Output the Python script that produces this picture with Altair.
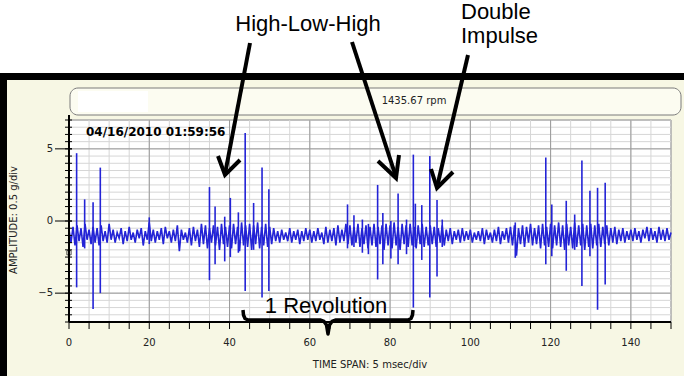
import altair as alt
import pandas as pd

# ---------------- layout (pixels of the 684x376 picture) ----------------
LEFT, TOP, W, H = 69, 120, 602, 202
BLUE = "#2323d6"

# ---------------- data ----------------
# waveform samples every 0.5 ms (g), hand-read band of the noisy signal
sig_00 = [-0.6, -1.5, -0.4, -1.7, -0.3, -1.4, -0.5, -1.8, -0.2, -1.3, -0.6, -1.6, -0.4, -1.5, -0.5, -1.7, -0.3, -1.4, -0.7, -1.5]
sig_10 = [-0.2, -1.3, -0.6, -1.5, -0.8, -1.2, -0.5, -1.6, -0.7, -1.4, -0.4, -1.3, -0.8, -1.5, -0.6, -1.2, -0.5, -1.7, -0.7, -1.3]
sig_20 = [-0.1, -1.4, -0.6, -1.5, -0.7, -1.3, -0.5, -1.6, -0.4, -1.2, -0.7, -1.5, -0.6, -1.4, -0.3, -2.1, -0.6, -1.3, -0.8, -1.5]
sig_30 = [-0.5, -1.7, -0.4, -1.4, -0.6, -1.8, -0.2, -1.6, -0.3, -1.9, -0.5, -1.5, -0.3, -1.7, -0.4, -2.0, -0.2, -1.6, -0.4, -1.8]
sig_40 = [-0.3, -1.9, -0.2, -1.6, -0.4, -2.1, -0.1, -1.7, -0.3, -1.8, -0.2, -2.0, -0.3, -1.6, -0.1, -1.9, -0.4, -1.7, -0.2, -1.8]
sig_50 = [-0.4, -1.6, -0.5, -1.4, -0.7, -1.5, -0.6, -1.3, -0.8, -1.4, -0.5, -1.5, -0.7, -1.3, -0.6, -1.6, -0.7, -1.4, -0.5, -1.3]
sig_60 = [-0.6, -1.5, -0.7, -1.4, -0.5, -1.3, -0.8, -1.6, -0.4, -1.5, -0.6, -1.4, -0.5, -1.7, -0.3, -1.5, -0.6, -1.4, -0.2, -1.6]
sig_70 = [-0.3, -1.7, -0.4, -1.5, -0.2, -1.8, -0.5, -1.6, -0.3, -1.9, -0.4, -1.7, -0.2, -1.8, -0.4, -1.6, -0.3, -2.0, -0.2, -1.7]
sig_80 = [-0.3, -1.9, -0.1, -1.7, -0.4, -2.0, -0.2, -1.6, -0.3, -1.8, -0.2, -1.7, -0.4, -1.9, -0.3, -1.6, -0.2, -1.8, -0.4, -1.7]
sig_90 = [-0.3, -1.6, -0.4, -1.8, -0.5, -1.5, -0.3, -1.7, -0.6, -1.4, -0.5, -1.6, -0.7, -1.3, -0.6, -1.5, -0.5, -1.4, -0.7, -1.3]
sig_100 = [-0.6, -1.5, -0.8, -1.3, -0.7, -1.4, -0.5, -1.6, -0.6, -1.3, -0.8, -1.5, -0.6, -1.4, -0.4, -1.6, -0.7, -1.3, -0.5, -1.5]
sig_110 = [-0.4, -1.7, -0.3, -2.4, -0.5, -1.6, -0.3, -1.8, -0.4, -1.5, -0.2, -1.7, -0.5, -1.6, -0.3, -1.9, -0.2, -1.7, -0.4, -1.8]
sig_120 = [-0.2, -1.9, -0.3, -1.7, -0.1, -1.8, -0.3, -2.0, -0.2, -1.7, -0.4, -1.9, -0.1, -1.8, -0.3, -1.7, -0.2, -2.0, -0.3, -1.8]
sig_130 = [-0.2, -1.9, -0.3, -1.7, -0.2, -1.8, -0.4, -1.6, -0.3, -1.7, -0.5, -1.5, -0.4, -1.6, -0.6, -1.4, -0.5, -1.5, -0.7, -1.3]
sig_140 = [-0.6, -1.4, -0.5, -1.3, -0.7, -1.5, -0.6, -1.2, -0.4, -1.4, -0.5, -1.3, -0.7, -1.5, -0.4, -1.3, -0.6, -1.4, -0.5, -1.3, -0.8]

# impulses: time (ms), peak (g), trough (g)
spike_t = [1.9, 3.9, 6.0, 7.8, 20.0, 35.0, 36.4, 38.8, 40.2, 42.2, 43.9, 46.0, 48.1, 49.8,
           69.4, 71.0, 73.1, 74.6, 76.9, 78.2, 80.2, 82.0, 84.1, 85.8, 86.3, 87.9, 89.9, 91.7, 93.0,
           111.2, 118.8, 120.3, 123.9, 126.0, 127.8, 129.8, 131.7, 133.6]
spike_hi = [4.7, 1.5, 1.3, 3.7, 0.25, 2.35, 1.0, 0.3, 1.6, 0.6, 6.1, 1.25, 3.7, 2.2,
            1.15, 0.4, 0.1, -0.2, 2.5, 0.55, 0.0, 1.9, 0.1, 4.6, 1.2, 1.1, 4.5, 1.45, 0.1,
            -0.1, 4.4, 1.15, 1.4, 0.45, 4.2, 2.1, 2.3, 2.65]
spike_lo = [-4.6, -1.9, -6.1, -5.0, -1.6, -4.1, -3.0, -2.8, -2.5, -2.2, -4.85, -2.0, -5.3, -4.85,
            -1.9, -1.8, -2.2, -2.3, -4.05, -3.0, -2.6, -3.0, -2.3, -6.0, -1.8, -2.7, -5.3, -3.85, -1.8,
            -2.55, -3.0, -2.45, -3.45, -2.0, -4.5, -2.45, -6.15, -4.4]

x_labels = [0, 20, 40, 60, 80, 100, 120, 140]
y_labels = [-5, 0, 5]

signal = (sig_00 + sig_10 + sig_20 + sig_30 + sig_40 + sig_50 + sig_60 + sig_70
          + sig_80 + sig_90 + sig_100 + sig_110 + sig_120 + sig_130 + sig_140)
times = [i * 0.5 for i in range(len(signal))]

x_grid = [i * 5 for i in range(31)]
y_grid = [-7 + i * 0.5 for i in range(29)]

XS = alt.Scale(domain=[0, 150], nice=False, zero=False)
YS = alt.Scale(domain=[-7, 7], nice=False, zero=False)


def px(v):
    return v - LEFT


def py(v):
    return v - TOP


one = pd.DataFrame({"a": [0]})


def box(x1, x2, y1, y2, **kw):
    return alt.Chart(one).mark_rect(**kw).encode(
        x=alt.value(px(x1)), x2=alt.value(px(x2)),
        y=alt.value(py(y1)), y2=alt.value(py(y2)))


def label(text, x, y, **kw):
    return alt.Chart(one).mark_text(text=text, **kw).encode(
        x=alt.value(px(x)), y=alt.value(py(y)))


layers = []
# window frame
layers.append(box(7, 684, 79, 376, color="#f7f7e4"))
layers.append(box(0, 684, 73, 80, color="#000000"))
layers.append(box(0, 7, 73, 376, color="#000000"))
# rpm box
layers.append(box(70, 681, 88, 115, fill="#fcfcf1", stroke="#7a7a7a", strokeWidth=1, cornerRadius=8))
layers.append(box(78, 148, 91, 112, color="#ffffff"))
# plot area
layers.append(alt.Chart(one).mark_rect(fill="white", stroke="#555555", strokeWidth=1).encode(
    x=alt.value(0), x2=alt.value(W), y=alt.value(0), y2=alt.value(H)))

# grid
layers.append(alt.Chart(pd.DataFrame({"v": x_grid})).mark_rule(color="#d6d6d6", strokeWidth=1).encode(
    x=alt.X("v:Q", scale=XS, axis=None), y=alt.value(0), y2=alt.value(H)))
layers.append(alt.Chart(pd.DataFrame({"v": y_grid})).mark_rule(color="#d6d6d6", strokeWidth=1).encode(
    y=alt.Y("v:Q", scale=YS, axis=None), x=alt.value(0), x2=alt.value(W)))
layers.append(alt.Chart(pd.DataFrame({"v": x_labels[1:]})).mark_rule(color="#9a9a9a", strokeWidth=1).encode(
    x=alt.X("v:Q", scale=XS, axis=None), y=alt.value(0), y2=alt.value(H)))
layers.append(alt.Chart(pd.DataFrame({"v": y_labels})).mark_rule(color="#9a9a9a", strokeWidth=1).encode(
    y=alt.Y("v:Q", scale=YS, axis=None), x=alt.value(0), x2=alt.value(W)))

# signal
sig_df = pd.DataFrame({"t": times, "g": signal})
layers.append(alt.Chart(sig_df).mark_line(color=BLUE, strokeWidth=1.6).encode(
    x=alt.X("t:Q", scale=XS, axis=None),
    y=alt.Y("g:Q", scale=YS, axis=None)))
spk_df = pd.DataFrame({"t": spike_t, "hi": spike_hi, "lo": spike_lo})
layers.append(alt.Chart(spk_df).mark_rule(color=BLUE, strokeWidth=1.6).encode(
    x=alt.X("t:Q", scale=XS, axis=None),
    y=alt.Y("hi:Q", scale=YS, axis=None), y2="lo:Q"))
layers.append(alt.Chart(pd.DataFrame({"t": [0], "g": [-2.2]})).mark_square(
    size=18, filled=False, color="black", strokeWidth=1).encode(
    x=alt.X("t:Q", scale=XS, axis=None), y=alt.Y("g:Q", scale=YS, axis=None)))

# axis lines
layers.append(alt.Chart(one).mark_rule(color="black", strokeWidth=2).encode(
    x=alt.value(0), x2=alt.value(W), y=alt.value(H)))
layers.append(alt.Chart(one).mark_rule(color="black", strokeWidth=2).encode(
    x=alt.value(0), y=alt.value(-5), y2=alt.value(H)))

# ticks
layers.append(alt.Chart(pd.DataFrame({"v": x_grid})).mark_rule(color="black", strokeWidth=1).encode(
    x=alt.X("v:Q", scale=XS, axis=None), y=alt.value(H), y2=alt.value(H + 7)))
layers.append(alt.Chart(pd.DataFrame({"v": y_grid})).mark_rule(color="black", strokeWidth=1).encode(
    y=alt.Y("v:Q", scale=YS, axis=None), x=alt.value(-4), x2=alt.value(3)))
layers.append(alt.Chart(pd.DataFrame({"v": y_labels})).mark_rule(color="black", strokeWidth=1).encode(
    y=alt.Y("v:Q", scale=YS, axis=None), x=alt.value(-14), x2=alt.value(3)))

# tick labels
layers.append(alt.Chart(pd.DataFrame({"v": x_labels})).mark_text(
    font="DejaVu Sans", fontSize=10, color="#222222", align="center", baseline="middle").encode(
    x=alt.X("v:Q", scale=XS, axis=None), y=alt.value(H + 21), text="v:Q"))
layers.append(alt.Chart(pd.DataFrame({"v": y_labels})).mark_text(
    font="DejaVu Sans", fontSize=10, color="#222222", align="right", baseline="middle").encode(
    y=alt.Y("v:Q", scale=YS, axis=None), x=alt.value(-16), text="v:Q"))

# annotation arrows (picture pixels)
arrow_id = ["a1", "a1", "h1", "h1", "h1", "a2", "a2", "h2", "h2", "h2", "a3", "a3", "h3", "h3", "h3"]
arrow_x = [250, 225, 218, 225, 240, 352, 396, 378, 396, 399, 468, 437, 431, 437, 453]
arrow_y = [43, 174, 156, 175, 160, 42, 177, 161, 178, 155, 55, 187, 169, 188, 172]
arr_df = pd.DataFrame({"id": arrow_id, "ord": list(range(len(arrow_id))),
                       "px": [px(v) for v in arrow_x], "py": [py(v) for v in arrow_y]})
layers.append(alt.Chart(arr_df).mark_line(color="black", strokeWidth=4, strokeJoin="miter").encode(
    x=alt.X("px:Q", scale=None), y=alt.Y("py:Q", scale=None),
    detail="id:N", order="ord:Q"))

# brace "1 Revolution"
brace_x = [243, 243.5, 245, 248, 320, 324, 326.5, 328, 329.5, 332, 336, 408, 411, 412.5, 413]
brace_y = [310, 315, 318.5, 320, 320, 321.5, 325, 334, 325, 321.5, 320, 320, 318.5, 315, 310]
br_df = pd.DataFrame({"ord": list(range(len(brace_x))),
                      "px": [px(v) for v in brace_x], "py": [py(v) for v in brace_y]})
layers.append(alt.Chart(br_df).mark_line(color="black", strokeWidth=3.5, strokeJoin="round").encode(
    x=alt.X("px:Q", scale=None), y=alt.Y("py:Q", scale=None), order="ord:Q"))

# texts
ann = dict(font="Liberation Sans", fontSize=22, color="black", baseline="alphabetic")
layers.append(label("High-Low-High", 308, 31, align="center", **ann))
layers.append(label("Double", 461, 19, align="left", **ann))
layers.append(label("Impulse", 461, 43, align="left", **ann))
layers.append(label("1 Revolution", 326, 313, align="center", **ann))
layers.append(label("1435.67  rpm", 414, 101, align="center", baseline="middle",
                    font="DejaVu Sans", fontSize=10, color="#222222"))
layers.append(label("04/16/2010 01:59:56", 86, 132, align="left", baseline="middle",
                    font="DejaVu Sans", fontSize=12, fontWeight="bold", color="black"))
layers.append(label("TIME SPAN: 5 msec/div", 370, 365, align="center", baseline="middle",
                    font="DejaVu Sans", fontSize=10, color="#222222"))
layers.append(label("AMPLITUDE: 0.5 g/div", 14, 220, align="center", baseline="middle", angle=270,
                    font="DejaVu Sans", fontSize=10, color="#222222"))

chart = alt.layer(*layers).properties(
    width=W, height=H,
    autosize=alt.AutoSizeParams(type="none"),
    padding={"left": LEFT, "top": TOP, "right": 684 - LEFT - W, "bottom": 376 - TOP - H},
    background="white",
).configure_view(strokeWidth=0)

chart.save("out.html", embed_options={"renderer": "svg", "actions": False})
